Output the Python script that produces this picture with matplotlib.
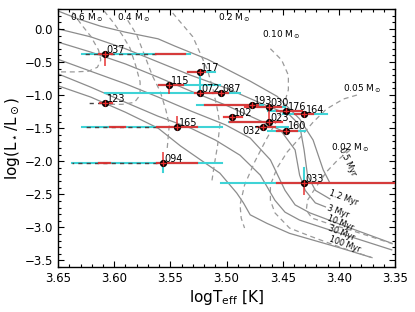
import matplotlib
matplotlib.use("Agg")
import matplotlib.pyplot as plt
import numpy as np
from matplotlib.ticker import MultipleLocator

# ---------------- isochrones (logTeff, logL) ----------------
iso_ages = ['0.5 Myr', '1.2 Myr', '3 Myr', '10 Myr', '30 Myr', '100 Myr']
iso_05_t = [3.650, 3.632, 3.612, 3.590, 3.561, 3.546, 3.517, 3.479, 3.455, 3.435, 3.423, 3.414, 3.408]
iso_05_l = [0.27, 0.15, 0.04, -0.05, -0.15, -0.26, -0.46, -0.79, -1.02, -1.36, -1.68, -2.13, -2.33]
iso_12_t = [3.650, 3.621, 3.590, 3.561, 3.532, 3.501, 3.470, 3.444, 3.435, 3.431, 3.428, 3.421, 3.408]
iso_12_l = [0.0, -0.12, -0.30, -0.50, -0.70, -0.89, -1.12, -1.30, -1.45, -1.83, -2.21, -2.44, -2.57]
iso_3_t = [3.650, 3.621, 3.590, 3.561, 3.532, 3.501, 3.475, 3.452, 3.439, 3.435, 3.430, 3.421, 3.412]
iso_3_l = [-0.20, -0.35, -0.53, -0.73, -0.94, -1.15, -1.35, -1.53, -1.83, -2.21, -2.44, -2.63, -2.69]
iso_10_t = [3.650, 3.621, 3.590, 3.561, 3.532, 3.501, 3.479, 3.461, 3.448, 3.439, 3.426, 3.390, 3.353]
iso_10_l = [-0.46, -0.64, -0.83, -1.03, -1.24, -1.45, -1.65, -1.98, -2.44, -2.66, -2.78, -3.01, -3.24]
iso_30_t = [3.650, 3.621, 3.590, 3.561, 3.532, 3.510, 3.488, 3.470, 3.457, 3.448, 3.435, 3.399, 3.353]
iso_30_l = [-0.68, -0.88, -1.11, -1.32, -1.50, -1.68, -1.91, -2.21, -2.59, -2.77, -2.89, -3.09, -3.34]
iso_100_t = [3.650, 3.621, 3.590, 3.561, 3.541, 3.524, 3.506, 3.491, 3.485, 3.479, 3.464, 3.444, 3.399, 3.372]
iso_100_l = [-0.86, -1.03, -1.26, -1.50, -1.77, -1.97, -2.18, -2.48, -2.63, -2.81, -2.94, -3.09, -3.31, -3.45]
iso_label_t = [3.392, 3.396, 3.401, 3.399, 3.398, 3.395]
iso_label_l = [-2.01, -2.55, -2.76, -2.93, -3.08, -3.26]
iso_label_rot = [-65, -20, -20, -22, -22, -20]

# ---------------- mass tracks ----------------
trk_06_t = [3.637, 3.629, 3.621, 3.614, 3.612, 3.615, 3.623, 3.635, 3.650]
trk_06_l = [0.25, 0.06, -0.11, -0.32, -0.47, -0.58, -0.64, -0.65, -0.65]
trk_04_t = [3.609, 3.601, 3.593, 3.586, 3.581, 3.577, 3.577, 3.582, 3.593, 3.604]
trk_04_l = [0.27, 0.10, -0.09, -0.29, -0.55, -0.80, -1.00, -1.11, -1.14, -1.14]
trk_03_t = [3.588, 3.580, 3.573, 3.566, 3.559, 3.554, 3.551, 3.553]
trk_03_l = [0.13, -0.09, -0.40, -0.71, -0.95, -1.23, -1.45, -1.83]
trk_02_t = [3.548, 3.539, 3.530, 3.524, 3.517, 3.512, 3.508, 3.506, 3.508, 3.511, 3.513]
trk_02_l = [0.24, 0.06, -0.12, -0.35, -0.62, -0.92, -1.23, -1.45, -1.76, -2.06, -2.29]
trk_010_t = [3.461, 3.451, 3.445, 3.445, 3.449, 3.456, 3.465, 3.475, 3.484, 3.488, 3.487, 3.484]
trk_010_l = [-0.30, -0.47, -0.70, -0.92, -1.15, -1.41, -1.68, -2.01, -2.36, -2.66, -2.86, -3.01]
trk_005_t = [3.384, 3.396, 3.411, 3.423, 3.435, 3.446, 3.455, 3.461, 3.461, 3.457, 3.444, 3.426, 3.399, 3.370]
trk_005_l = [-1.00, -1.06, -1.21, -1.41, -1.65, -1.86, -2.10, -2.36, -2.59, -2.78, -3.01, -3.13, -3.30, -3.46]
trk_002_t = [3.390, 3.401, 3.411, 3.420, 3.428, 3.429, 3.424, 3.408, 3.390, 3.368, 3.352]
trk_002_l = [-1.83, -1.98, -2.16, -2.38, -2.59, -2.74, -2.86, -2.95, -3.04, -3.16, -3.25]
mass_labels = ['0.6 M$_\\odot$', '0.4 M$_\\odot$', '0.2 M$_\\odot$', '0.10 M$_\\odot$', '0.05 M$_\\odot$', '0.02 M$_\\odot$']
mass_label_t = [3.625, 3.583, 3.493, 3.451, 3.379, 3.390]
mass_label_l = [0.164, 0.164, 0.164, -0.09, -0.91, -1.80]

# ---------------- stars ----------------
names = ['037', '123', '115', '117', '072', '087', '193', '030', '176', '164',
         '102', '023', '032', '160', '165', '094', '033']
teff = [3.608, 3.608, 3.551, 3.524, 3.524, 3.505, 3.477, 3.462, 3.447, 3.431,
        3.495, 3.462, 3.468, 3.447, 3.544, 3.557, 3.431]
logl = [-0.38, -1.12, -0.85, -0.65, -0.97, -0.97, -1.15, -1.18, -1.24, -1.29,
        -1.33, -1.41, -1.48, -1.54, -1.48, -2.03, -2.33]
# cyan Teff ranges (min, max)
cyan_lo = [3.533, None, 3.506, 3.510, 3.513, 3.488, 3.468, 3.448, 3.435, 3.411,
           None, 3.461, 3.445, 3.430, 3.504, 3.504, 3.350]
cyan_hi = [3.629, None, 3.560, 3.534, 3.608, 3.521, 3.526, 3.472, 3.463, 3.450,
           None, 3.498, 3.474, 3.463, 3.629, 3.638, 3.505]
# red Teff ranges (min, max)
red_lo = [3.537, 3.602, 3.539, 3.519, 3.513, 3.499, 3.472, 3.452, 3.433, 3.423,
          3.486, 3.451, 3.457, 3.437, 3.526, 3.526, 3.350]
red_hi = [3.563, 3.613, 3.560, 3.534, 3.528, 3.512, 3.519, 3.484, 3.455, 3.439,
          3.502, 3.497, 3.473, 3.455, 3.562, 3.562, 3.455]
# second red pieces
red2_star = ['037', '165', '094']
red2_lo = [3.602, 3.590, 3.604]
red2_hi = [3.614, 3.604, 3.614]
# black dashed Teff ranges
dash_star = ['037', '123', '165', '094']
dash_lo = [3.563, 3.604, 3.562, 3.562]
dash_hi = [3.629, 3.624, 3.629, 3.638]
# vertical error bars (logL min, max)
red_v_star = ['037', '115', '165', '094', '033', '023']
red_v_lo = [-0.55, -0.97, -1.48, -2.03, -2.50, -1.41]
red_v_hi = [-0.38, -0.85, -1.33, -1.88, -2.33, -1.18]
cyan_v_star = ['072', '094', '033']
cyan_v_lo = [-0.97, -2.16, -2.33]
cyan_v_hi = [-0.65, -2.03, -2.10]

CYAN = '#3fd3d6'
RED = '#e62a2a'

fig = plt.figure(figsize=(4.15, 3.12), dpi=100)
ax = fig.add_axes([0.14, 0.144, 0.812, 0.827])

isos = [(iso_05_t, iso_05_l), (iso_12_t, iso_12_l), (iso_3_t, iso_3_l),
        (iso_10_t, iso_10_l), (iso_30_t, iso_30_l), (iso_100_t, iso_100_l)]
for (t, l) in isos:
    ax.plot(t, l, color='#8c8c8c', lw=0.9, zorder=1)
for lab, t, l, r in zip(iso_ages, iso_label_t, iso_label_l, iso_label_rot):
    ax.text(t, l, lab, fontsize=5.8, rotation=r, ha='center', va='center', zorder=2)

trks = [(trk_06_t, trk_06_l), (trk_04_t, trk_04_l), (trk_03_t, trk_03_l),
        (trk_02_t, trk_02_l), (trk_010_t, trk_010_l), (trk_005_t, trk_005_l),
        (trk_002_t, trk_002_l)]
for (t, l) in trks:
    ax.plot(t, l, color='#9a9a9a', lw=0.9, ls=(0, (4, 3)), zorder=1)
for lab, t, l in zip(mass_labels, mass_label_t, mass_label_l):
    ax.text(t, l, lab, fontsize=6.5, ha='center', va='center', zorder=2)

idx = {n: i for i, n in enumerate(names)}
for i in range(len(names)):
    if cyan_lo[i] is not None:
        ax.plot([cyan_lo[i], cyan_hi[i]], [logl[i], logl[i]], color=CYAN, lw=1.5, zorder=3)
for s, a, b in zip(cyan_v_star, cyan_v_lo, cyan_v_hi):
    i = idx[s]
    ax.plot([teff[i], teff[i]], [a, b], color=CYAN, lw=1.5, zorder=3)
for s, a, b in zip(dash_star, dash_lo, dash_hi):
    i = idx[s]
    ax.plot([a, b], [logl[i], logl[i]], color='#444444', lw=1.0, ls=(0, (3, 3)), zorder=4)
for i in range(len(names)):
    ax.plot([red_lo[i], red_hi[i]], [logl[i], logl[i]], color=RED, lw=1.6, alpha=0.9, zorder=5)
for s, a, b in zip(red2_star, red2_lo, red2_hi):
    i = idx[s]
    ax.plot([a, b], [logl[i], logl[i]], color=RED, lw=1.6, alpha=0.9, zorder=5)
for s, a, b in zip(red_v_star, red_v_lo, red_v_hi):
    i = idx[s]
    ax.plot([teff[i], teff[i]], [a, b], color=RED, lw=1.4, alpha=0.75, zorder=5)

ax.plot(teff, logl, 'o', color='black', ms=4.2, zorder=6, ls='none')
ax.plot(teff, logl, '+', color=RED, ms=5, mew=1.0, zorder=7, ls='none')
for n, t, l in zip(names, teff, logl):
    if n == '032':
        ax.annotate(n, (t, l), xytext=(-1.5, 0.5), textcoords='offset points',
                    ha='right', va='top', fontsize=7, zorder=8)
    else:
        ax.annotate(n, (t, l), xytext=(1, -0.5), textcoords='offset points',
                    ha='left', va='bottom', fontsize=7, zorder=8)

ax.set_xlim(3.65, 3.35)
ax.set_ylim(-3.6, 0.3)
ax.set_xticks([3.65, 3.60, 3.55, 3.50, 3.45, 3.40, 3.35])
ax.set_xticklabels(['3.65', '3.60', '3.55', '3.50', '3.45', '3.40', '3.35'])
ax.set_yticks([0.0, -0.5, -1.0, -1.5, -2.0, -2.5, -3.0, -3.5])
ax.xaxis.set_minor_locator(MultipleLocator(0.01))
ax.yaxis.set_minor_locator(MultipleLocator(0.1))
ax.tick_params(which='both', direction='in', top=True, right=True, labelsize=8.5, width=0.8)
ax.tick_params(which='major', length=4)
ax.tick_params(which='minor', length=2)
for sp in ax.spines.values():
    sp.set_linewidth(1.0)
ax.set_xlabel(r'logT$_{\rm eff}$ [K]', fontsize=11, labelpad=2)
ax.set_ylabel(r'log(L$_\star$/L$_\odot$)', fontsize=11, labelpad=2)

fig.savefig('out.png', dpi=100)
